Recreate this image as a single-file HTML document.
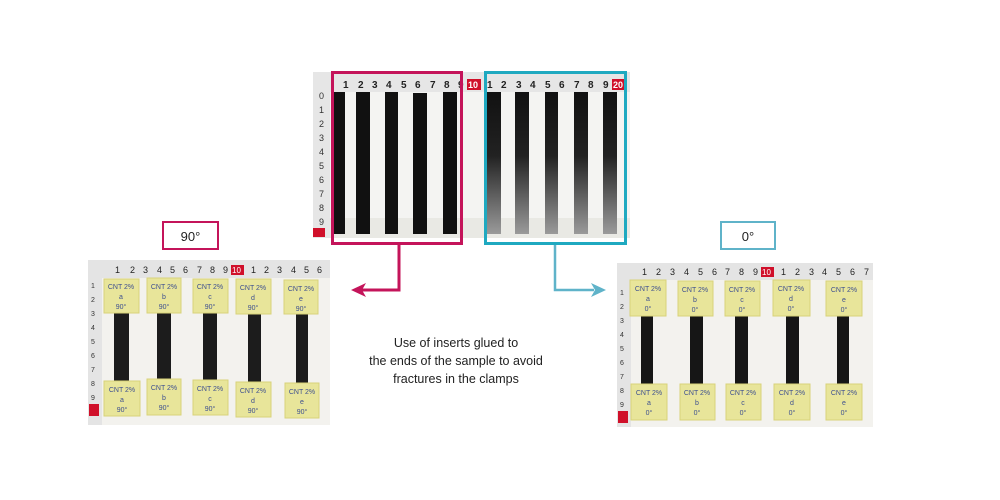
<!DOCTYPE html>
<html><head><meta charset="utf-8"><style>
body{margin:0;background:#fff;width:1000px;height:500px;overflow:hidden}
svg{display:block}
text{font-family:"Liberation Sans",sans-serif}
.t{font-size:7px;fill:#3d4f8f;text-anchor:middle}
</style></head><body>
<svg width="1000" height="500" viewBox="0 0 1000 500" xmlns="http://www.w3.org/2000/svg">
<defs>
<linearGradient id="shine" x1="0" y1="0" x2="0" y2="1">
<stop offset="0" stop-color="#111"/><stop offset="0.45" stop-color="#222"/><stop offset="1" stop-color="#9a9a9a"/>
</linearGradient>
</defs>
<!-- TOP PHOTO -->
<rect x="313" y="72" width="317" height="166" fill="#f4f4f2"/>
<rect x="313" y="72" width="317" height="20" fill="#e6e6e6"/>
<rect x="313" y="72" width="17" height="166" fill="#e6e6e6"/>
<rect x="330" y="218" width="300" height="20" fill="#e9e9e4"/>
<g font-size="10" font-weight="bold" fill="#222">
<text x="343" y="88">1</text><text x="358" y="88">2</text><text x="372" y="88">3</text><text x="386" y="88">4</text><text x="401" y="88">5</text><text x="415" y="88">6</text><text x="430" y="88">7</text><text x="444" y="88">8</text><text x="458" y="88">9</text>
<text x="487" y="88">1</text><text x="501" y="88">2</text><text x="516" y="88">3</text><text x="530" y="88">4</text><text x="545" y="88">5</text><text x="559" y="88">6</text><text x="574" y="88">7</text><text x="588" y="88">8</text><text x="603" y="88">9</text>
</g>
<rect x="467" y="79" width="14" height="11" fill="#d0102a"/><text x="468" y="88" font-size="9" fill="#fff" font-weight="bold">10</text>
<rect x="612" y="79" width="14" height="11" fill="#d0102a"/><text x="613" y="88" font-size="9" fill="#fff" font-weight="bold">20</text>
<g font-size="9" fill="#333">
<text x="319" y="99">0</text><text x="319" y="113">1</text><text x="319" y="127">2</text><text x="319" y="141">3</text><text x="319" y="155">4</text><text x="319" y="169">5</text><text x="319" y="183">6</text><text x="319" y="197">7</text><text x="319" y="211">8</text><text x="319" y="225">9</text>
</g>
<rect x="313" y="228" width="12" height="9" fill="#d0102a"/>
<g fill="#111">
<rect x="333" y="92" width="12" height="142"/><rect x="356" y="92" width="14" height="142"/><rect x="385" y="92" width="13" height="142"/><rect x="413" y="93" width="14" height="141"/><rect x="443" y="92" width="14" height="142"/>
</g>
<g fill="url(#shine)">
<rect x="487" y="92" width="14" height="142"/><rect x="515" y="92" width="14" height="142"/><rect x="545" y="92" width="13" height="142"/><rect x="574" y="92" width="14" height="142"/><rect x="603" y="92" width="14" height="142"/>
</g>
<rect x="332.5" y="72.5" width="129" height="171" fill="none" stroke="#c4145a" stroke-width="3"/>
<rect x="485.5" y="72.5" width="140" height="171" fill="none" stroke="#1fa9c0" stroke-width="3"/>
<!-- connectors -->
<polyline points="399,245 399,290 362,290" fill="none" stroke="#c4145a" stroke-width="3"/>
<polygon points="351,290 366,283 362,290 366,297" fill="#c4145a"/>
<polyline points="555,245 555,290 594,290" fill="none" stroke="#5fb3c9" stroke-width="2.5"/>
<polygon points="606,290 591,283 595,290 591,297" fill="#5fb3c9"/>
<!-- labels -->
<rect x="163" y="222" width="55" height="27" fill="#fff" stroke="#c4145a" stroke-width="2"/>
<text x="190.5" y="241" font-size="13" text-anchor="middle" fill="#222">90°</text>
<rect x="721" y="222" width="54" height="27" fill="#fff" stroke="#5fb3c9" stroke-width="2"/>
<text x="748" y="241" font-size="13" text-anchor="middle" fill="#222">0°</text>
<g font-size="12.5" fill="#222" text-anchor="middle">
<text x="456" y="347">Use of inserts glued to</text>
<text x="456" y="365">the ends of the sample to avoid</text>
<text x="456" y="383">fractures in the clamps</text>
</g>
<!-- LEFT PHOTO -->
<rect x="88" y="260" width="242" height="165" fill="#f3f2ee"/>
<rect x="88" y="260" width="242" height="18" fill="#e4e4e4"/>
<rect x="88" y="260" width="14" height="165" fill="#e4e4e4"/>
<g font-size="9" fill="#222">
<text x="115" y="273">1</text><text x="130" y="273">2</text><text x="143" y="273">3</text><text x="157" y="273">4</text><text x="170" y="273">5</text><text x="183" y="273">6</text><text x="197" y="273">7</text><text x="210" y="273">8</text><text x="223" y="273">9</text>
<text x="251" y="273">1</text><text x="264" y="273">2</text><text x="277" y="273">3</text><text x="291" y="273">4</text><text x="304" y="273">5</text><text x="317" y="273">6</text>
</g>
<rect x="231" y="265" width="13" height="10" fill="#d0102a"/><text x="232" y="273" font-size="8" fill="#fff">10</text>
<g font-size="7" fill="#333">
<text x="91" y="288">1</text><text x="91" y="302">2</text><text x="91" y="316">3</text><text x="91" y="330">4</text><text x="91" y="344">5</text><text x="91" y="358">6</text><text x="91" y="372">7</text><text x="91" y="386">8</text><text x="91" y="400">9</text>
</g>
<rect x="89" y="404" width="10" height="12" fill="#d0102a"/>
<g fill="#1c1c1c">
<rect x="114" y="313" width="15" height="68"/><rect x="157" y="313" width="14" height="68"/><rect x="203" y="313" width="14" height="68"/><rect x="248" y="313" width="13" height="70"/><rect x="296" y="313" width="12" height="70"/>
</g>
<g fill="#e8e59a" stroke="#d8d27a">
<rect x="104" y="279" width="35" height="34"/><rect x="147" y="278" width="34" height="35"/><rect x="193" y="279" width="35" height="34"/><rect x="236" y="279" width="35" height="35"/><rect x="284" y="280" width="34" height="34"/>
<rect x="104" y="381" width="36" height="35"/><rect x="147" y="379" width="34" height="36"/><rect x="193" y="380" width="35" height="35"/><rect x="236" y="382" width="35" height="35"/><rect x="285" y="383" width="34" height="35"/>
</g>
<g class="t">
<text x="121" y="289">CNT 2%</text><text x="121" y="299">a</text><text x="121" y="309">90°</text>
<text x="164" y="289">CNT 2%</text><text x="164" y="299">b</text><text x="164" y="309">90°</text>
<text x="210" y="289">CNT 2%</text><text x="210" y="299">c</text><text x="210" y="309">90°</text>
<text x="253" y="290">CNT 2%</text><text x="253" y="300">d</text><text x="253" y="310">90°</text>
<text x="301" y="291">CNT 2%</text><text x="301" y="301">e</text><text x="301" y="311">90°</text>
<text x="122" y="392">CNT 2%</text><text x="122" y="402">a</text><text x="122" y="412">90°</text>
<text x="164" y="390">CNT 2%</text><text x="164" y="400">b</text><text x="164" y="410">90°</text>
<text x="210" y="391">CNT 2%</text><text x="210" y="401">c</text><text x="210" y="411">90°</text>
<text x="253" y="393">CNT 2%</text><text x="253" y="403">d</text><text x="253" y="413">90°</text>
<text x="302" y="394">CNT 2%</text><text x="302" y="404">e</text><text x="302" y="414">90°</text>
</g>
<!-- RIGHT PHOTO -->
<rect x="617" y="263" width="256" height="164" fill="#f3f2ee"/>
<rect x="617" y="263" width="256" height="17" fill="#e4e4e4"/>
<rect x="617" y="263" width="14" height="164" fill="#e4e4e4"/>
<g font-size="9" fill="#222">
<text x="642" y="275">1</text><text x="656" y="275">2</text><text x="670" y="275">3</text><text x="684" y="275">4</text><text x="698" y="275">5</text><text x="712" y="275">6</text><text x="725" y="275">7</text><text x="739" y="275">8</text><text x="753" y="275">9</text>
<text x="781" y="275">1</text><text x="795" y="275">2</text><text x="809" y="275">3</text><text x="822" y="275">4</text><text x="836" y="275">5</text><text x="850" y="275">6</text><text x="864" y="275">7</text>
</g>
<rect x="761" y="267" width="13" height="10" fill="#d0102a"/><text x="762" y="275" font-size="8" fill="#fff">10</text>
<g font-size="7" fill="#333">
<text x="620" y="295">1</text><text x="620" y="309">2</text><text x="620" y="323">3</text><text x="620" y="337">4</text><text x="620" y="351">5</text><text x="620" y="365">6</text><text x="620" y="379">7</text><text x="620" y="393">8</text><text x="620" y="407">9</text>
</g>
<rect x="618" y="411" width="10" height="12" fill="#d0102a"/>
<g fill="#161616">
<rect x="641" y="316" width="12" height="68"/><rect x="690" y="316" width="13" height="68"/><rect x="735" y="316" width="13" height="68"/><rect x="786" y="316" width="13" height="68"/><rect x="837" y="316" width="12" height="68"/>
</g>
<g fill="#e8e59a" stroke="#d8d27a">
<rect x="630" y="280" width="36" height="36"/><rect x="678" y="281" width="35" height="35"/><rect x="725" y="281" width="35" height="35"/><rect x="773" y="280" width="37" height="36"/><rect x="826" y="281" width="36" height="35"/>
<rect x="631" y="384" width="36" height="36"/><rect x="680" y="384" width="35" height="36"/><rect x="726" y="384" width="35" height="36"/><rect x="774" y="384" width="36" height="36"/><rect x="826" y="384" width="36" height="36"/>
</g>
<g class="t">
<text x="648" y="291">CNT 2%</text><text x="648" y="301">a</text><text x="648" y="311">0°</text>
<text x="695" y="292">CNT 2%</text><text x="695" y="302">b</text><text x="695" y="312">0°</text>
<text x="742" y="292">CNT 2%</text><text x="742" y="302">c</text><text x="742" y="312">0°</text>
<text x="791" y="291">CNT 2%</text><text x="791" y="301">d</text><text x="791" y="311">0°</text>
<text x="844" y="292">CNT 2%</text><text x="844" y="302">e</text><text x="844" y="312">0°</text>
<text x="649" y="395">CNT 2%</text><text x="649" y="405">a</text><text x="649" y="415">0°</text>
<text x="697" y="395">CNT 2%</text><text x="697" y="405">b</text><text x="697" y="415">0°</text>
<text x="743" y="395">CNT 2%</text><text x="743" y="405">c</text><text x="743" y="415">0°</text>
<text x="792" y="395">CNT 2%</text><text x="792" y="405">d</text><text x="792" y="415">0°</text>
<text x="844" y="395">CNT 2%</text><text x="844" y="405">e</text><text x="844" y="415">0°</text>
</g>
</svg>
</body></html>
